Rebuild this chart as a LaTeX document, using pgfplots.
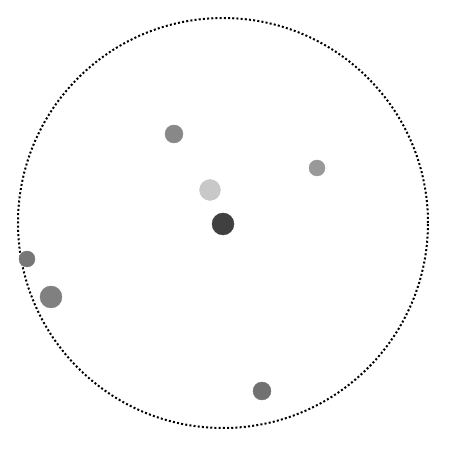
\documentclass[border=0pt]{standalone}
\usepackage{pgfplots}
\pgfplotsset{compat=1.18}
\definecolor{cA}{HTML}{888888}
\definecolor{cB}{HTML}{999999}
\definecolor{cC}{HTML}{C8C8C8}
\definecolor{cD}{HTML}{404040}
\definecolor{cE}{HTML}{777777}
\definecolor{cF}{HTML}{808080}
\definecolor{cG}{HTML}{717171}
\begin{document}
\begin{tikzpicture}
\begin{axis}[
  scale only axis, width=464pt, height=450pt,
  xmin=-223, xmax=241, ymin=-227, ymax=223,
  hide axis, clip=false,
]
\path (axis cs:-223,-227) rectangle (axis cs:241,223);
\draw[black, line width=2pt, dash pattern=on 2pt off 2.2pt] (axis cs:0,0) circle[radius=205];
\addplot[only marks, mark=*, mark size=9pt, color=cA] coordinates {(-49,89)};
\addplot[only marks, mark=*, mark size=8pt, color=cB] coordinates {(94,55)};
\addplot[only marks, mark=*, mark size=10.5pt, color=cC] coordinates {(-13,33)};
\addplot[only marks, mark=*, mark size=11pt, color=cD] coordinates {(0,-1)};
\addplot[only marks, mark=*, mark size=8pt, color=cE] coordinates {(-196,-36)};
\addplot[only marks, mark=*, mark size=11pt, color=cF] coordinates {(-172,-74)};
\addplot[only marks, mark=*, mark size=9pt, color=cG] coordinates {(39,-168)};
\end{axis}
\end{tikzpicture}
\end{document}
